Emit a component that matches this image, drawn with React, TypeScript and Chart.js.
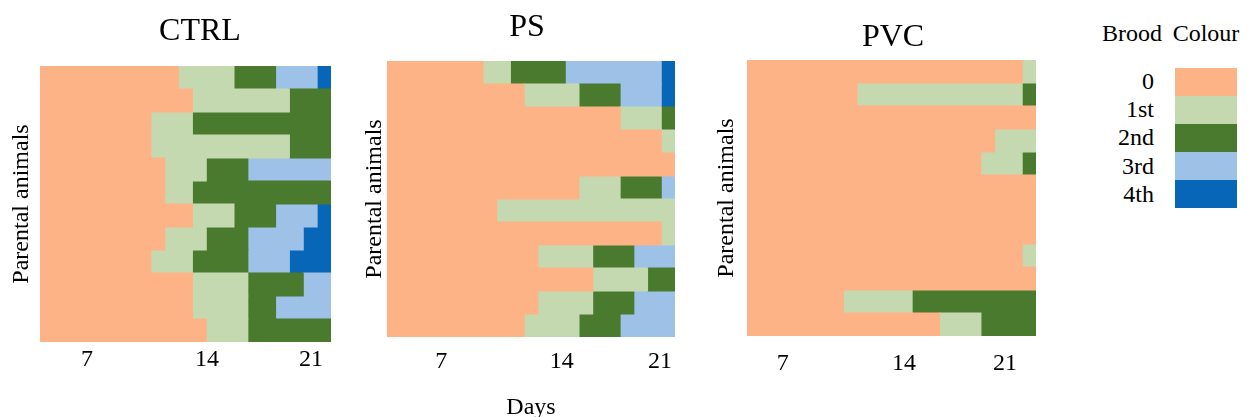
import React, { useEffect, useRef } from 'react';
import { Chart, registerables } from 'chart.js';

Chart.register(...registerables);

// ---------- data ----------
const broodLabels = ['0', '1st', '2nd', '3rd', '4th'];
const broodColors = ['#FDB385', '#C5D9B1', '#4A7A2E', '#9DC1E7', '#0866B8'];
const rowLabels = ['1', '2', '3', '4', '5', '6', '7', '8', '9', '10', '11', '12'];
const dayTickLabels = ['7', '14', '21'];
const numDays = 21;

// each row: number of days spent in brood 0, 1st, 2nd, 3rd, 4th (consecutive)
const ctrlRuns = [
  [10, 4, 3, 3, 1],
  [11, 7, 3],
  [8, 3, 10],
  [8, 10, 3],
  [9, 3, 3, 6],
  [9, 2, 10],
  [11, 3, 3, 3, 1],
  [9, 3, 3, 4, 2],
  [8, 3, 4, 3, 3],
  [11, 4, 4, 2],
  [11, 4, 2, 4],
  [12, 3, 6],
];
const psRuns = [
  [7, 2, 4, 7, 1],
  [10, 4, 3, 3, 1],
  [17, 3, 1],
  [20, 1],
  [21],
  [14, 3, 3, 1],
  [8, 13],
  [20, 1],
  [11, 4, 3, 3],
  [15, 4, 2],
  [11, 4, 3, 3],
  [10, 4, 3, 4],
];
const pvcRuns = [
  [20, 1],
  [8, 12, 1],
  [21],
  [18, 3],
  [17, 3, 1],
  [21],
  [21],
  [21],
  [20, 1],
  [21],
  [7, 5, 9],
  [14, 3, 4],
];

// tick values (in day-cell units) where the 7 / 14 / 21 labels sit in each panel
const ctrlTickValues = [3.4, 12.05, 19.55];
const psTickValues = [3.95, 12.75, 19.9];
const pvcTickValues = [2.6, 11.4, 18.75];

// ---------- layout ----------
const FONT = "'Liberation Serif', 'Times New Roman', serif";

const panels = [
  {
    title: 'CTRL', runs: ctrlRuns, tickValues: ctrlTickValues,
    left: 0, width: 400, yAxisW: 40, rightW: 69,
    titlePad: { top: 12.8, bottom: 14.8 }, yTitlePad: 7.6,
    xAxisH: 75, tickPad: 3, xTitle: false,
  },
  {
    title: 'PS', runs: psRuns, tickValues: psTickValues,
    left: 355, width: 344, yAxisW: 32, rightW: 24,
    titlePad: { top: 8.8, bottom: 13.8 }, yTitlePad: 5.6,
    xAxisH: 80, tickPad: 10, xTitle: true,
  },
  {
    title: 'PVC', runs: pvcRuns, tickValues: pvcTickValues,
    left: 710, width: 366, yAxisW: 37, rightW: 40,
    titlePad: { top: 18.8, bottom: 2.8 }, yTitlePad: 2.6,
    xAxisH: 81, tickPad: 13, xTitle: false,
  },
];

function buildDatasets(runs: number[][]) {
  return broodLabels.map((lab, b) => ({
    label: lab,
    data: runs.map((row) => {
      if (b >= row.length) return null;
      const start = row.slice(0, b).reduce((a, c) => a + c, 0);
      return [start, start + row[b]];
    }),
    backgroundColor: broodColors[b],
    borderWidth: 0,
    grouped: false,
    barPercentage: 1,
    categoryPercentage: 1,
    inflateAmount: 0.5,
  }));
}

function Panel({ cfg }: { cfg: any }) {
  const ref = useRef<HTMLCanvasElement>(null);
  useEffect(() => {
    if (!ref.current) return;
    const chart = new Chart(ref.current, {
      type: 'bar',
      data: { labels: rowLabels, datasets: buildDatasets(cfg.runs) as any },
      options: {
        indexAxis: 'y',
        responsive: false,
        animation: false,
        devicePixelRatio: 1,
        layout: { padding: 0 },
        plugins: {
          legend: { display: false },
          tooltip: { enabled: false },
          title: {
            display: true,
            text: cfg.title,
            color: '#000',
            font: { family: FONT, size: 32, weight: 'normal', lineHeight: 1.2 },
            padding: cfg.titlePad,
          },
        },
        scales: {
          x: {
            type: 'linear',
            min: 0,
            max: numDays,
            grid: { display: false, drawTicks: false },
            border: { display: false },
            afterBuildTicks: (s: any) => {
              s.ticks = cfg.tickValues.map((v: number) => ({ value: v }));
            },
            ticks: {
              autoSkip: false,
              maxRotation: 0,
              color: '#000',
              padding: cfg.tickPad,
              font: { family: FONT, size: 24, lineHeight: 1.2 },
              callback: (_v: any, i: number) => dayTickLabels[i],
            },
            title: {
              display: cfg.xTitle,
              text: 'Days',
              color: '#000',
              font: { family: FONT, size: 24, lineHeight: 1 },
              padding: { top: 0, bottom: -3 },
            },
            afterFit: (s: any) => {
              s.height = cfg.xAxisH;
            },
          },
          y: {
            type: 'category',
            grid: { display: false, drawTicks: false },
            border: { display: false },
            ticks: { display: false },
            title: {
              display: true,
              text: 'Parental animals',
              color: '#000',
              font: { family: FONT, size: 24, lineHeight: 1.2 },
              padding: { top: cfg.yTitlePad, bottom: 0 },
            },
            afterFit: (s: any) => {
              s.width = cfg.yAxisW;
            },
          },
          y2: {
            type: 'linear',
            position: 'right',
            display: true,
            grid: { display: false, drawTicks: false },
            border: { display: false },
            ticks: { display: false },
            afterFit: (s: any) => {
              s.width = cfg.rightW;
            },
          },
        },
      } as any,
    });
    return () => chart.destroy();
  }, []);
  return (
    <canvas
      ref={ref}
      width={cfg.width}
      height={417}
      style={{ position: 'absolute', left: cfg.left, top: 0, width: cfg.width, height: 417 }}
    />
  );
}

function Legend() {
  const textStyle: React.CSSProperties = {
    position: 'absolute',
    fontFamily: FONT,
    fontSize: 24,
    lineHeight: '28px',
    color: '#000',
    whiteSpace: 'nowrap',
  };
  return (
    <>
      <div style={{ ...textStyle, left: 1102, top: 19, width: 60, textAlign: 'center' }}>Brood</div>
      <div style={{ ...textStyle, left: 1166, top: 19, width: 80, textAlign: 'center' }}>Colour</div>
      {broodLabels.map((lab, i) => (
        <React.Fragment key={lab}>
          <div style={{ ...textStyle, left: 1100, top: 67 + i * 28.2, width: 54, textAlign: 'right' }}>{lab}</div>
          <div
            style={{
              position: 'absolute',
              left: 1175,
              top: 68 + i * 28,
              width: 62,
              height: 28,
              background: broodColors[i],
            }}
          />
        </React.Fragment>
      ))}
    </>
  );
}

export default function App() {
  return (
    <div style={{ position: 'absolute', left: 0, top: 0, width: 1249, height: 417, background: '#fff', overflow: 'hidden' }}>
      {panels.map((p) => (
        <Panel key={p.title} cfg={p} />
      ))}
      <Legend />
    </div>
  );
}
